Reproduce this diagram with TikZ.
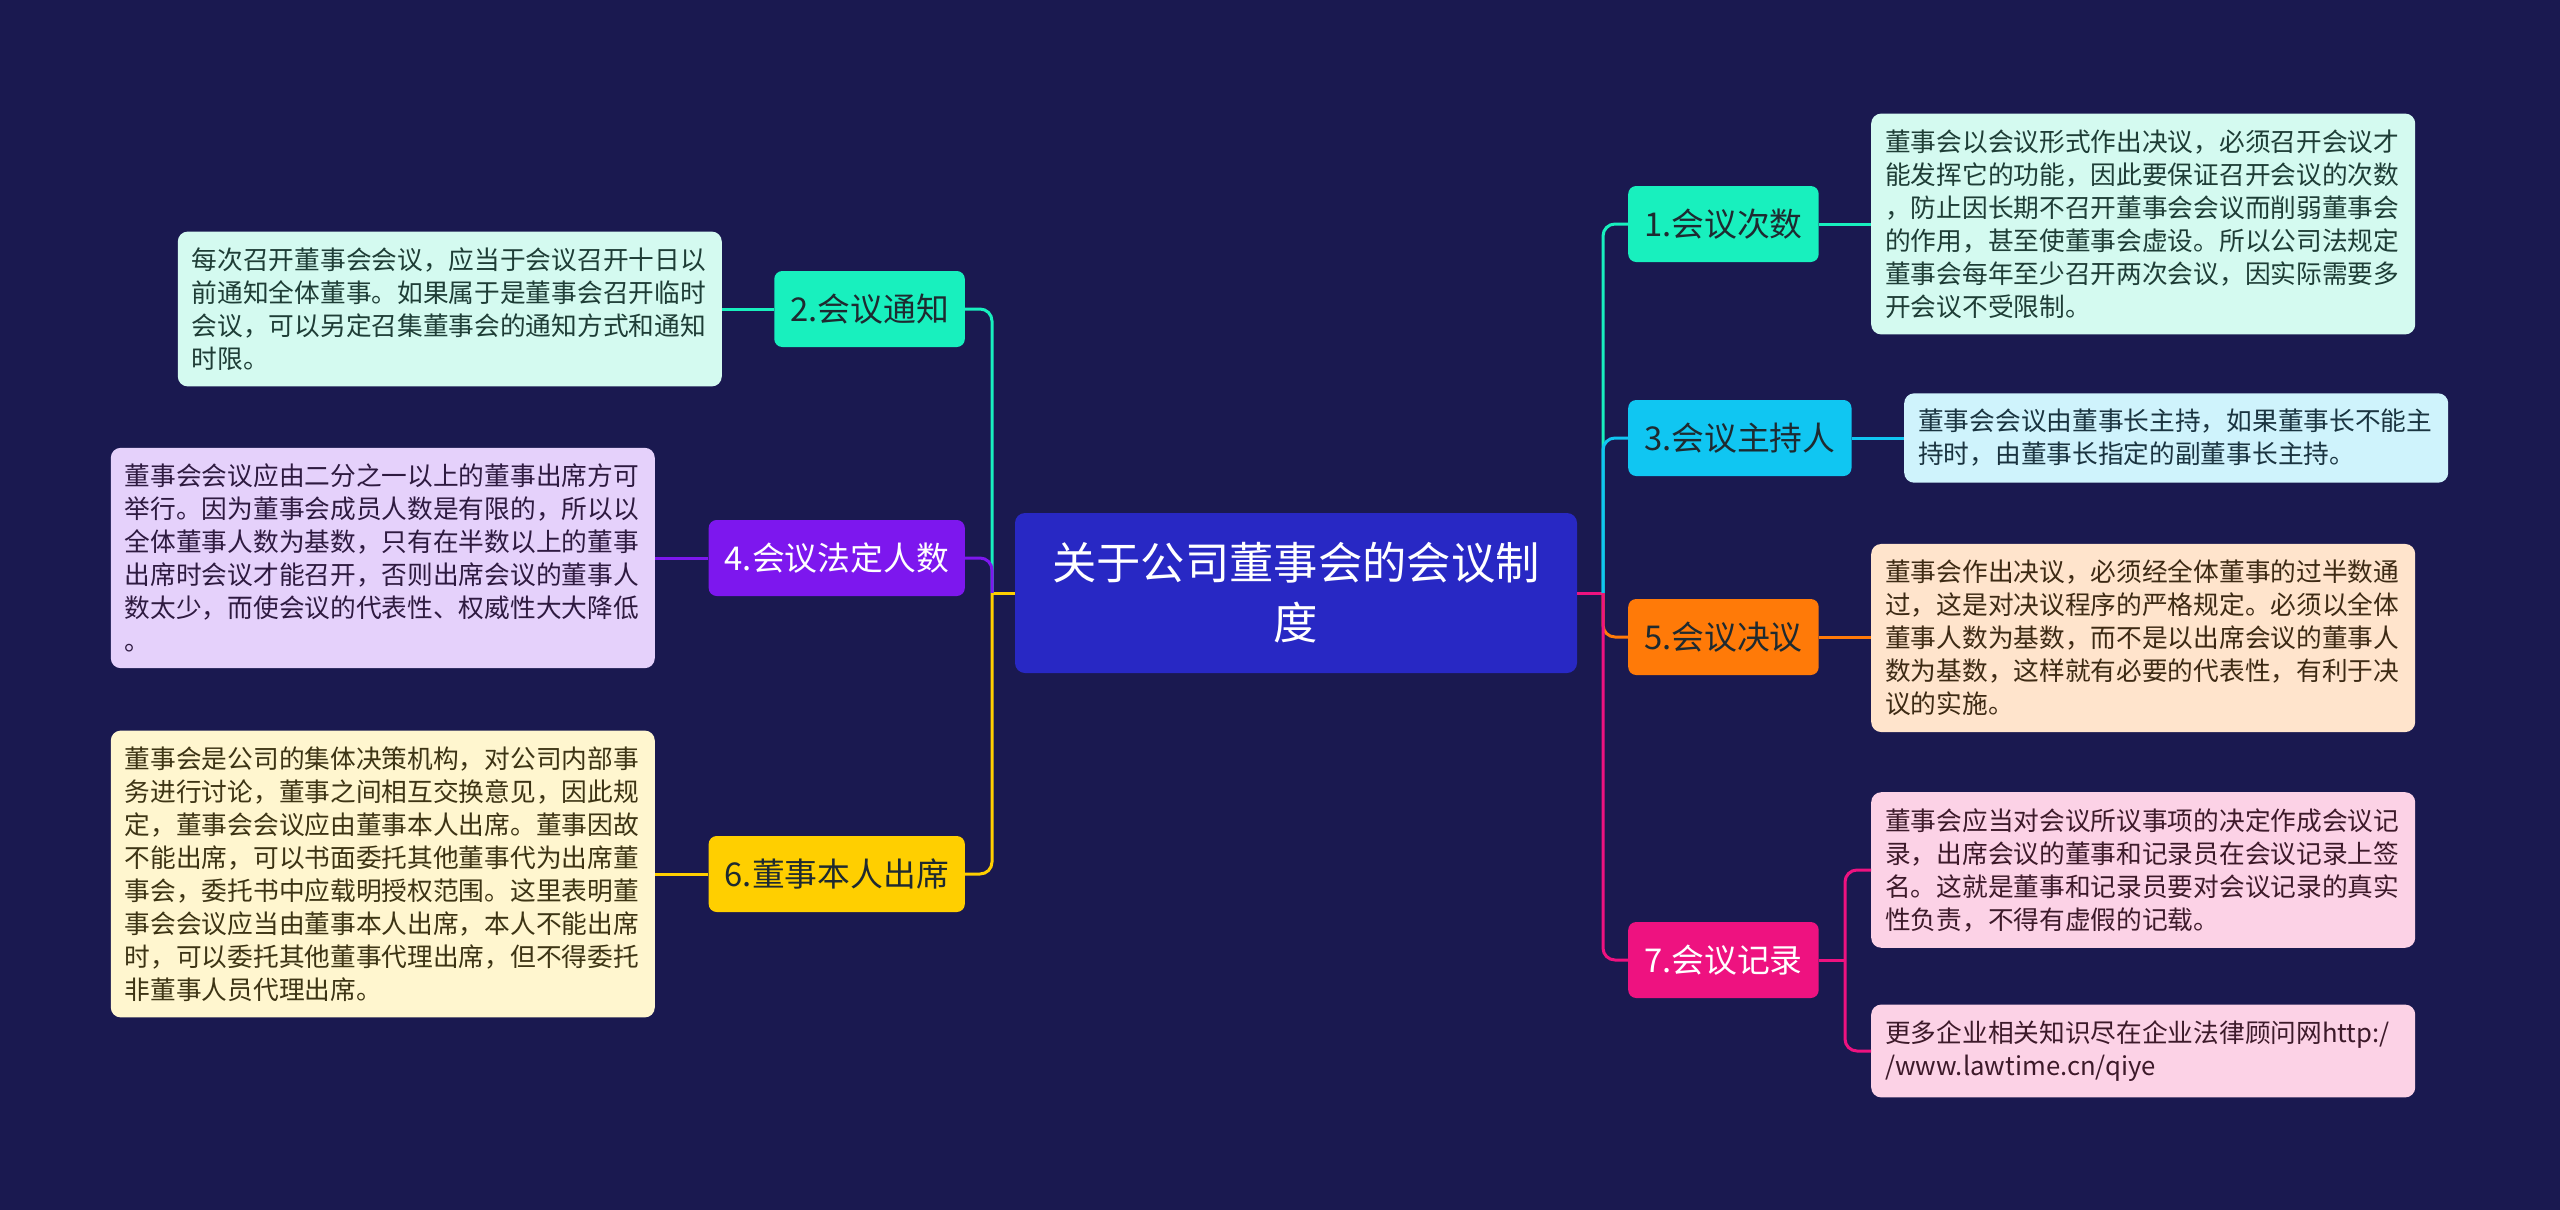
\documentclass[tikz,border=0pt]{standalone}
\usepackage{fontspec}
\setmainfont{Noto Sans CJK SC}
\usetikzlibrary{calc}

\begin{document}
\begin{tikzpicture}[x=1pt, y=-1pt,
    rootBox/.style={fill=rootColour, text=white, rounded corners=10pt, minimum width=562pt, minimum height=160pt, align=center, font=\fontsize{44.3}{60}\selectfont},
    branchBox/.style={rounded corners=8pt, minimum height=76pt, inner xsep=16pt, text=branchText, font=\fontsize{32.8}{40}\selectfont},
    leafBox/.style={rounded corners=10pt, align=left, inner xsep=14pt, inner ysep=16pt, text width=516pt, font=\fontsize{25.7}{33}\selectfont},
    link/.style={line width=3pt, rounded corners=12pt}]

    % Define the colours
    \definecolor{bgColour}{HTML}{1A1950}
    \definecolor{rootColour}{HTML}{2828C4}
    \definecolor{aquaColour}{HTML}{18F0BE}
    \definecolor{cyanColour}{HTML}{10C6F2}
    \definecolor{orangeColour}{HTML}{FF7A08}
    \definecolor{pinkColour}{HTML}{EE1280}
    \definecolor{purpleColour}{HTML}{7D17EE}
    \definecolor{yellowColour}{HTML}{FFCF00}
    \definecolor{branchText}{HTML}{1E2A30}
    \definecolor{aquaLeaf}{HTML}{D4FAF0}
    \definecolor{cyanLeaf}{HTML}{CFF3FC}
    \definecolor{orangeLeaf}{HTML}{FFE4CC}
    \definecolor{pinkLeaf}{HTML}{FCD2E6}
    \definecolor{purpleLeaf}{HTML}{E5D1FB}
    \definecolor{yellowLeaf}{HTML}{FFF6CF}
    \definecolor{aquaInk}{HTML}{1E3D36}
    \definecolor{cyanInk}{HTML}{1A3440}
    \definecolor{orangeInk}{HTML}{3D2A14}
    \definecolor{pinkInk}{HTML}{3D1A2A}
    \definecolor{purpleInk}{HTML}{2E1A40}
    \definecolor{yellowInk}{HTML}{3D3414}

    % Draw the background
    \fill[bgColour] (0,0) rectangle (2560,1210);
    \useasboundingbox (0,0) rectangle (2560,1210);

    % Root
    \node[rootBox] (root) at (1296,593) {关于公司董事会的会议制\\度};

    % Right branches
    \node[branchBox, fill=aquaColour, anchor=west] (b1) at (1628,224) {1.会议次数};
    \node[branchBox, fill=cyanColour, anchor=west] (b3) at (1628,438) {3.会议主持人};
    \node[branchBox, fill=orangeColour, anchor=west] (b5) at (1628,637) {5.会议决议};
    \node[branchBox, fill=pinkColour, text=white, anchor=west] (b7) at (1628,960) {7.会议记录};

    % Left branches
    \node[branchBox, fill=aquaColour, anchor=east] (b2) at (965,309) {2.会议通知};
    \node[branchBox, fill=purpleColour, text=white, anchor=east] (b4) at (965,558) {4.会议法定人数};
    \node[branchBox, fill=yellowColour, anchor=east] (b6) at (965,874) {6.董事本人出席};

    % Right leaves
    \node[leafBox, fill=aquaLeaf, text=aquaInk, anchor=west] (l1) at (1871,224)
        {董事会以会议形式作出决议，必须召开会议才\\能发挥它的功能，因此要保证召开会议的次数\\，防止因长期不召开董事会会议而削弱董事会\\的作用，甚至使董事会虚设。所以公司法规定\\董事会每年至少召开两次会议，因实际需要多\\开会议不受限制。};
    \node[leafBox, fill=cyanLeaf, text=cyanInk, anchor=west] (l3) at (1904,438)
        {董事会会议由董事长主持，如果董事长不能主\\持时，由董事长指定的副董事长主持。};
    \node[leafBox, fill=orangeLeaf, text=orangeInk, anchor=west] (l5) at (1871,638)
        {董事会作出决议，必须经全体董事的过半数通\\过，这是对决议程序的严格规定。必须以全体\\董事人数为基数，而不是以出席会议的董事人\\数为基数，这样就有必要的代表性，有利于决\\议的实施。};
    \node[leafBox, fill=pinkLeaf, text=pinkInk, anchor=west] (l7a) at (1871,870)
        {董事会应当对会议所议事项的决定作成会议记\\录，出席会议的董事和记录员在会议记录上签\\名。这就是董事和记录员要对会议记录的真实\\性负责，不得有虚假的记载。};
    \node[leafBox, fill=pinkLeaf, text=pinkInk, anchor=west] (l7b) at (1871,1051)
        {更多企业相关知识尽在企业法律顾问网http:/\\/www.lawtime.cn/qiye};

    % Left leaves
    \node[leafBox, fill=aquaLeaf, text=aquaInk, anchor=east] (l2) at (722,309)
        {每次召开董事会会议，应当于会议召开十日以\\前通知全体董事。如果属于是董事会召开临时\\会议，可以另定召集董事会的通知方式和通知\\时限。};
    \node[leafBox, fill=purpleLeaf, text=purpleInk, anchor=east] (l4) at (655,558)
        {董事会会议应由二分之一以上的董事出席方可\\举行。因为董事会成员人数是有限的，所以以\\全体董事人数为基数，只有在半数以上的董事\\出席时会议才能召开，否则出席会议的董事人\\数太少，而使会议的代表性、权威性大大降低\\。};
    \node[leafBox, fill=yellowLeaf, text=yellowInk, anchor=east] (l6) at (655,874)
        {董事会是公司的集体决策机构，对公司内部事\\务进行讨论，董事之间相互交换意见，因此规\\定，董事会会议应由董事本人出席。董事因故\\不能出席，可以书面委托其他董事代为出席董\\事会，委托书中应载明授权范围。这里表明董\\事会会议应当由董事本人出席，本人不能出席\\时，可以委托其他董事代理出席，但不得委托\\非董事人员代理出席。};

    % Define the joints
    \coordinate (rightJoin) at (1603,593);
    \coordinate (leftJoin) at (992,593);
    \coordinate (recordFork) at (1845,960);

    % Draw root to branches
    \draw[link, pinkColour] (root.east) -- (rightJoin);
    \draw[link, yellowColour] (root.west) -- (leftJoin);
    \foreach \b/\c in {b1/aquaColour, b3/cyanColour, b5/orangeColour, b7/pinkColour}
        \draw[link, \c] (rightJoin) |- (\b.west);
    \foreach \b/\c in {b2/aquaColour, b4/purpleColour, b6/yellowColour}
        \draw[link, \c] (leftJoin) |- (\b.east);

    % Draw branches to leaves
    \draw[link, aquaColour] (b1.east) -- (l1.west);
    \draw[link, cyanColour] (b3.east) -- (l3.west);
    \draw[link, orangeColour] (b5.east) -- (l5.west |- b5.east);
    \draw[link, pinkColour] (b7.east) -- (recordFork);
    \draw[link, pinkColour] (recordFork) |- (l7a.west);
    \draw[link, pinkColour] (recordFork) |- (l7b.west);
    \draw[link, aquaColour] (b2.west) -- (l2.east);
    \draw[link, purpleColour] (b4.west) -- (l4.east);
    \draw[link, yellowColour] (b6.west) -- (l6.east);

\end{tikzpicture}
\end{document}
